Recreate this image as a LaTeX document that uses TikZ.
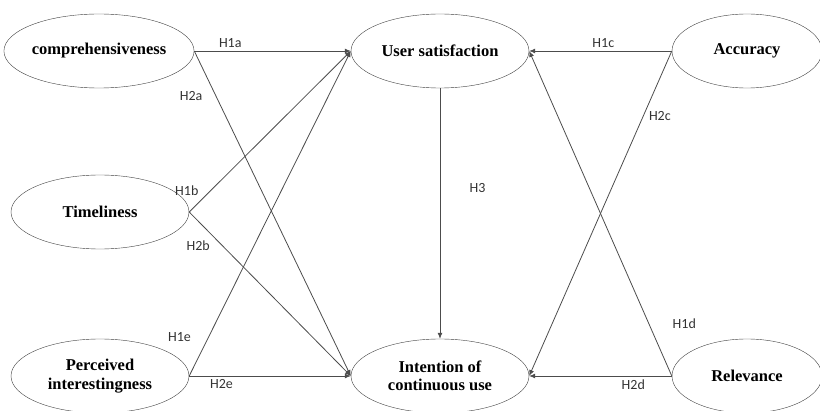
\documentclass[tikz,border=0pt]{standalone}
\usepackage{fontspec}
\setmainfont{Liberation Serif}
\newfontfamily\labelfont{Carlito}
\usetikzlibrary{arrows.meta,shapes.geometric}

\tikzset{
    construct/.style={draw=black!75, ellipse, minimum width=178pt, minimum height=74pt, inner sep=0pt, align=center, font=\fontsize{16.5}{18.5}\selectfont\bfseries},
    hyp/.style={draw=black!70, line width=0.8pt, -{Latex[length=6pt,width=5pt]}},
    hlabel/.style={font=\labelfont\fontsize{14}{16}\selectfont, text=black!80}
}

\begin{document}
\begin{tikzpicture}[x=1pt,y=1pt]
        \useasboundingbox (0,0) rectangle (820,410);

        \node[construct] (comp) at (99,359) {comprehensiveness}; %comprehensiveness
        \node[construct] (time) at (100,198) {Timeliness}; %timeliness
        \node[construct] (perc) at (100,34) {Perceived\\interestingness}; %perceived
        \node[construct] (user) at (440,359) {User satisfaction}; %satisfaction
        \node[construct] (intent) at (440,34) {Intention of\\continuous use}; %intention
        \node[construct, minimum width=150pt] (acc) at (747,359) {Accuracy}; %accuracy
        \node[construct, minimum width=150pt] (rel) at (747,34) {Relevance}; %relevance

        \draw[hyp] (comp.east) -- (user.west) node[hlabel, pos=0.23, above] (h1a) {H1a};
        \draw[hyp] (comp.east) -- (intent.west) node[hlabel, pos=0.14, left=10pt] (h2a) {H2a};
        \draw[hyp] (time.east) -- (user.west) node[hlabel, pos=0.08, above left] (h1b) {H1b};
        \draw[hyp] (time.east) -- (intent.west) node[hlabel, pos=0.15, below left] (h2b) {H2b};
        \draw[hyp] (perc.east) -- (user.west) node[hlabel, pos=0.12, left=14pt] (h1e) {H1e};
        \draw[hyp] (perc.east) -- (intent.west) node[hlabel, pos=0.2, below] (h2e) {H2e};

        \draw[hyp] (acc.west) -- (user.east) node[hlabel, pos=0.48, above] (h1c) {H1c};
        \draw[hyp] (acc.west) -- (intent.east) node[hlabel, pos=0.2, right=2pt] (h2c) {H2c};
        \draw[hyp] (rel.west) -- (user.east) node[hlabel, pos=0.16, right=20pt] (h1d) {H1d};
        \draw[hyp] (rel.west) -- (intent.east) node[hlabel, pos=0.27, below] (h2d) {H2d};

        \draw[hyp] (user.south) -- (intent.north) node[hlabel, pos=0.4, right=26pt] (h3) {H3};
    \end{tikzpicture}
\end{document}
